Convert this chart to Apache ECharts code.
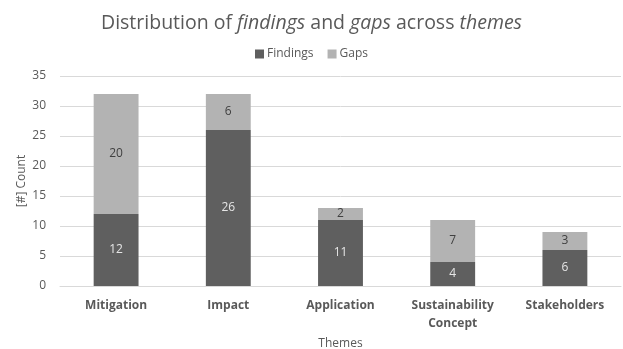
<!DOCTYPE html>
<html lang="en">
<head>
    <meta charset="utf-8" />
    <title>Distribution of findings and gaps across themes</title>
    <script src="https://cdn.jsdelivr.net/npm/echarts@6/dist/echarts.min.js"></script>
    <style>
        html, body { margin: 0; padding: 0; background: #fff; }
        #chart { width: 623px; height: 349px; }
    </style>
</head>
<body>
<div id="chart"></div>
<script>
    var themes = ['Mitigation', 'Impact', 'Application', 'Sustainability\nConcept', 'Stakeholders'];
    var findings = [12, 26, 11, 4, 6];
    var gaps = [20, 6, 2, 7, 3];
    var yTicks = [0, 5, 10, 15, 20, 25, 30, 35];

    var font = '"Open Sans", "Noto Sans", sans-serif';
    var chart = echarts.init(document.getElementById('chart'));

    chart.setOption({
        animation: false,
        textStyle: { fontFamily: font },
        title: {
            text: '{n|Distribution of }{i|findings}{n| and }{i|gaps}{n| across }{i|themes}',
            left: 'center',
            top: 8,
            textStyle: {
                fontWeight: 'normal',
                rich: {
                    n: { fontSize: 19.5, color: '#595959', fontFamily: font, fontWeight: 'normal' },
                    i: { fontSize: 19.5, color: '#595959', fontFamily: font, fontWeight: 'normal', fontStyle: 'italic' }
                }
            }
        },
        legend: {
            data: ['Findings', 'Gaps'],
            top: 43,
            left: 'center',
            itemWidth: 9,
            itemHeight: 9,
            itemGap: 14,
            icon: 'rect',
            textStyle: { fontSize: 12, color: '#595959', padding: [0, 0, 0, -2] }
        },
        grid: { left: 60, right: 2, top: 76, bottom: 63, outerBoundsMode: 'none', containLabel: false },
        xAxis: {
            type: 'category',
            data: themes,
            name: 'Themes',
            nameLocation: 'middle',
            nameGap: 50,
            nameTextStyle: { fontSize: 12, color: '#595959' },
            axisLine: { lineStyle: { color: '#d9d9d9' } },
            axisTick: { show: false },
            axisLabel: { fontSize: 12, fontWeight: 'bold', color: '#595959', margin: 11, lineHeight: 18 }
        },
        yAxis: {
            type: 'value',
            min: 0,
            max: yTicks[yTicks.length - 1],
            interval: 5,
            name: '[#] Count',
            nameLocation: 'middle',
            nameGap: 32,
            nameMoveOverlap: false,
            nameTextStyle: { fontSize: 12, color: '#595959' },
            axisLabel: { fontSize: 12, color: '#595959', margin: 14 },
            splitLine: { lineStyle: { color: '#d9d9d9' } }
        },
        series: [{
            name: 'Findings',
            type: 'bar',
            stack: 'total',
            barWidth: '40%',
            data: findings,
            itemStyle: { color: '#5f5f5f' },
            label: { show: true, position: 'inside', color: '#e6e6e6', fontSize: 12 }
        }, {
            name: 'Gaps',
            type: 'bar',
            stack: 'total',
            barWidth: '40%',
            data: gaps,
            itemStyle: { color: '#b3b3b3' },
            label: { show: true, position: 'inside', color: '#404040', fontSize: 12 }
        }]
    });
</script>
</body>
</html>
